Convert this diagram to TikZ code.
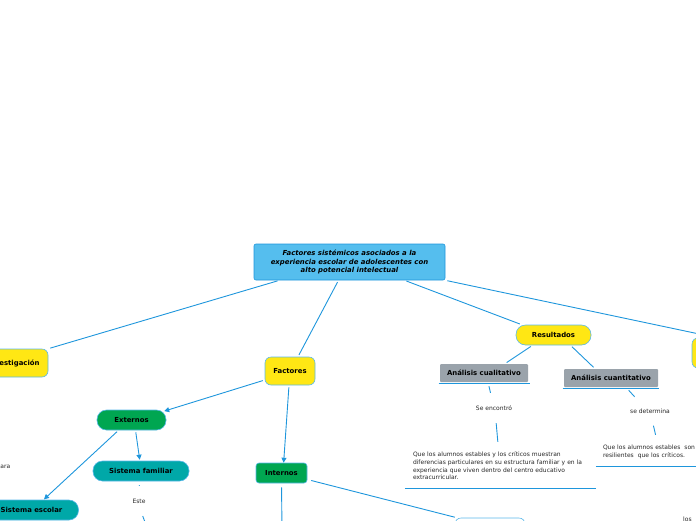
\documentclass[tikz,border=0pt]{standalone}
\usepackage{fontspec}
\setmainfont{DejaVu Sans}
\usepackage{xcolor}
\usepackage{tikz}
\usetikzlibrary{arrows.meta, positioning}

\definecolor{linkblue}{HTML}{1E96DC}
\definecolor{edgeblue}{HTML}{5AB8EA}
\definecolor{rootfill}{HTML}{55BEEE}
\definecolor{mapyellow}{HTML}{FFE714}
\definecolor{mapgreen}{HTML}{00A651}
\definecolor{mapteal}{HTML}{00A8A8}
\definecolor{mapgray}{HTML}{9AA3AB}

\begin{document}
\begin{tikzpicture}[x=1pt, y=-1pt,
    link/.style={linkblue, line width=0.9pt, shorten <=2pt, shorten >=2pt},
    arr/.style={link, -{Triangle[length=5pt,width=5pt]}},
    uline/.style={linkblue, line width=1pt},
    topic/.style={draw=edgeblue, line width=0.6pt, inner sep=0pt, align=center,
      font=\fontsize{6.9}{8.5}\selectfont\bfseries},
    yellowbox/.style={topic, fill=mapyellow, rounded corners=6pt},
    pill/.style={topic, rounded corners=9.5pt},
    graybox/.style={topic, draw=none, fill=mapgray, rounded corners=1pt},
    tag/.style={inner sep=0pt, minimum height=26pt, text=black!85,
      font=\fontsize{6}{7.7}\selectfont},
    note/.style={inner ysep=0pt, align=left, text=black!85,
      font=\fontsize{6}{7.7}\selectfont}]

  \useasboundingbox (0,0) rectangle (696,520);

  % Central topic
  \node[topic, fill=rootfill, draw=linkblue, rounded corners=2pt, minimum width=191pt,
    minimum height=36pt, font=\fontsize{6.9}{8.5}\selectfont\bfseries\itshape]
    (root) at (349.5,262) {Factores sistémicos asociados a la\\
      experiencia escolar de adolescentes con\\ alto potencial intelectual};

  % First level
  \node[yellowbox, minimum width=69pt, minimum height=28pt] (invest) at (13.5,363) {Investigación};
  \node[yellowbox, minimum width=50pt, minimum height=28pt] (factores) at (290,371) {Factores};
  \node[pill, fill=mapyellow, minimum width=75pt, minimum height=20pt] (resultados) at (553.5,335) {Resultados};
  \node[yellowbox, minimum width=48pt, minimum height=30pt] (rnode) at (716,353) {};

  \draw[link] ([xshift=-70pt]root.south) -- (invest.north east);
  \draw[link] ([xshift=-11pt]root.south) -- ([xshift=8pt]factores.north);
  \draw[link] ([xshift=55pt]root.south) -- ([xshift=6pt]resultados.north west);
  \draw[link] (root.south east) -- ([xshift=25pt]rnode.north west);

  % Factores
  \node[pill, fill=mapgreen, minimum width=69pt, minimum height=20pt] (externos) at (131.5,420) {Externos};
  \node[topic, fill=mapgreen, rounded corners=3pt, minimum width=51pt, minimum height=20pt] (internos) at (281.5,473) {Internos};
  \node[pill, fill=mapteal, minimum width=96pt, minimum height=20pt] (familiar) at (141,471) {Sistema familiar};
  \node[pill, fill=mapteal, minimum width=94pt, minimum height=20pt] (escolar) at (31.5,510) {Sistema escolar};
  \node[draw=edgeblue, line width=0.6pt, fill=white, rounded corners=6pt,
    minimum width=70pt, minimum height=24pt] (bnode) at (490,530) {};

  \draw[arr] ([yshift=-9pt]factores.west) -- ([xshift=-4pt,yshift=-2pt]externos.north east);
  \draw[arr] ([xshift=-1pt]factores.south) -- ([xshift=2pt,yshift=-2pt]internos.north);
  \draw[arr] ([xshift=4pt]externos.south) -- ([xshift=-1pt,yshift=-1pt]familiar.north);
  \draw[arr] ([xshift=-13pt]externos.south) -- ([xshift=11pt,yshift=-1pt]escolar.north);

  \node[tag, anchor=east] (para) at (10.5,467) {para};
  \node[tag] (este) at (139,501) {Este};
  \coordinate (famdown) at (148,530);
  \coordinate (intdown) at (282,530);

  \draw[link, shorten <=4pt] ([xshift=-1pt]familiar.south) -- (este.north);
  \draw[link, shorten >=0pt] ([xshift=3pt]este.south) -- (famdown);
  \draw[link, shorten <=4pt, shorten >=0pt] (internos.south) -- (intdown);
  \draw[link] ([xshift=2pt,yshift=-7pt]internos.east) -- ([xshift=2pt]bnode.north west);

  % Resultados
  \node[graybox, minimum width=88pt, minimum height=18pt] (cualit) at (484,373) {Análisis cualitativo};
  \node[graybox, minimum width=94pt, minimum height=18pt] (cuantit) at (611,378) {Análisis cuantitativo};
  \draw[uline] ([xshift=-1pt,yshift=-1pt]cualit.south west) -- ([xshift=2pt,yshift=-1pt]cualit.south east);
  \draw[uline] ([xshift=-1pt,yshift=-1pt]cuantit.south west) -- ([xshift=1pt,yshift=-1pt]cuantit.south east);

  \draw[link] ([xshift=-21pt]resultados.south) -- ([xshift=21pt]cualit.north);
  \draw[link] ([xshift=17pt]resultados.south) -- ([xshift=-16pt]cuantit.north);

  \node[tag] (encontro) at (494,408) {Se encontró};
  \node[tag, minimum height=25pt] (determina) at (650,411) {se determina};

  \node[note, inner xsep=8pt, text width=175pt, minimum height=44pt] (hallazgo) at (500.5,466)
    {Que los alumnos estables y los críticos muestran\\
     diferencias particulares en su estructura familiar y en la\\
     experiencia que viven dentro del centro educativo\\
     extracurricular.};
  \node[note, inner xsep=7pt, text width=106pt, minimum height=29pt] (resiliencia) at (656,451.5)
    {Que los alumnos estables\ \ son\\ resilientes\ \ que los críticos.};
  \draw[uline] (hallazgo.south west) -- (hallazgo.south east);
  \draw[uline] (resiliencia.south west) -- (resiliencia.south east);

  \draw[link, shorten <=4pt] ([xshift=4pt]cualit.south) -- ([xshift=-3pt]encontro.north);
  \draw[link] ([xshift=2pt]encontro.south) -- ([xshift=-2.5pt]hallazgo.north);
  \draw[link, shorten <=4pt] ([xshift=15pt]cuantit.south) -- ([xshift=-14pt]determina.north);
  \draw[link] ([xshift=3pt]determina.south) -- (resiliencia.north);

  \node[tag, minimum height=0pt, anchor=west] (los) at (683,519) {los};
\end{tikzpicture}
\end{document}
